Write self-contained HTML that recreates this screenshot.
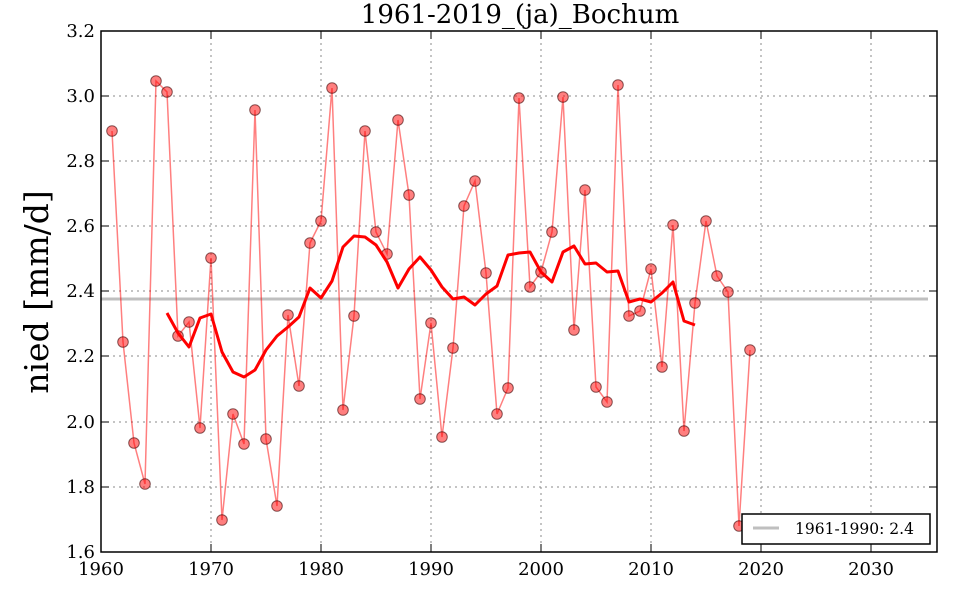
<!DOCTYPE html>
<html><head><meta charset="utf-8"><style>body{margin:0;background:#fff}svg{display:block}</style></head><body>
<svg width="960" height="600" xmlns="http://www.w3.org/2000/svg" font-family="'DejaVu Serif','Liberation Serif',serif">
<defs>
<marker id="m" markerUnits="userSpaceOnUse" markerWidth="14" markerHeight="14" refX="7" refY="7"><circle cx="7" cy="7" r="5.3" fill="rgba(255,0,0,0.5)" stroke="rgba(60,0,0,0.6)" stroke-width="1"/></marker>
</defs>
<rect x="101" y="31" width="836" height="521" fill="#fff"/>
<g stroke="#888" stroke-dasharray="2,4" stroke-width="1">
<line x1="211" y1="31" x2="211" y2="552"/><line x1="321" y1="31" x2="321" y2="552"/><line x1="431" y1="31" x2="431" y2="552"/><line x1="541" y1="31" x2="541" y2="552"/><line x1="651" y1="31" x2="651" y2="552"/><line x1="761" y1="31" x2="761" y2="552"/><line x1="871" y1="31" x2="871" y2="552"/>
<line x1="101" y1="96" x2="937" y2="96"/><line x1="101" y1="161" x2="937" y2="161"/><line x1="101" y1="226" x2="937" y2="226"/><line x1="101" y1="291" x2="937" y2="291"/><line x1="101" y1="356" x2="937" y2="356"/><line x1="101" y1="422" x2="937" y2="422"/><line x1="101" y1="487" x2="937" y2="487"/>
</g>
<line x1="101" y1="299" x2="928" y2="299" stroke="#bfbfbf" stroke-width="3"/>
<polyline fill="none" stroke="rgba(255,0,0,0.5)" stroke-width="1.5" marker-start="url(#m)" marker-mid="url(#m)" marker-end="url(#m)" points="112,131 123,342 134,443 145,484 156,81 167,92 178,336 189,322 200,428 211,258 222,520 233,414 244,444 255,110 266,439 277,506 288,315 299,386 310,243 321,221 332,88 343,410 354,316 365,131 376,232 387,254 398,120 409,195 420,399 431,323 442,437 453,348 464,206 475,181 486,273 497,414 508,388 519,98 530,287 541,272 552,232 563,97 574,330 585,190 596,387 607,402 618,85 629,316 640,311 651,269 662,367 673,225 684,431 695,303 706,221 717,276 728,292 739,526 750,350"/>
<polyline fill="none" stroke="#f00" stroke-width="3" stroke-linejoin="round" points="167,313 178,333 189,347 200,318 211,314 222,352 233,372 244,377 255,370 266,350 277,336 288,327 299,317 310,288 321,298 332,281 343,247 354,236 365,237 376,245 387,262 398,288 409,269 420,257 431,270 442,287 453,299 464,297 475,305 486,294 497,286 508,255 519,253 530,252 541,272 552,282 563,252 574,246 585,264 596,263 607,272 618,271 629,302 640,299 651,302 662,293 673,282 684,321 695,325"/>
<rect x="101" y="31" width="836" height="521" fill="none" stroke="#000" stroke-width="1.5"/>
<g stroke="#000" stroke-width="1">
<line x1="211" y1="552" x2="211" y2="544"/><line x1="321" y1="552" x2="321" y2="544"/><line x1="431" y1="552" x2="431" y2="544"/><line x1="541" y1="552" x2="541" y2="544"/><line x1="651" y1="552" x2="651" y2="544"/><line x1="761" y1="552" x2="761" y2="544"/><line x1="871" y1="552" x2="871" y2="544"/>
<line x1="211" y1="31" x2="211" y2="39"/><line x1="321" y1="31" x2="321" y2="39"/><line x1="431" y1="31" x2="431" y2="39"/><line x1="541" y1="31" x2="541" y2="39"/><line x1="651" y1="31" x2="651" y2="39"/><line x1="761" y1="31" x2="761" y2="39"/><line x1="871" y1="31" x2="871" y2="39"/>
<line x1="101" y1="96" x2="109" y2="96"/><line x1="101" y1="161" x2="109" y2="161"/><line x1="101" y1="226" x2="109" y2="226"/><line x1="101" y1="291" x2="109" y2="291"/><line x1="101" y1="356" x2="109" y2="356"/><line x1="101" y1="422" x2="109" y2="422"/><line x1="101" y1="487" x2="109" y2="487"/>
<line x1="937" y1="96" x2="929" y2="96"/><line x1="937" y1="161" x2="929" y2="161"/><line x1="937" y1="226" x2="929" y2="226"/><line x1="937" y1="291" x2="929" y2="291"/><line x1="937" y1="356" x2="929" y2="356"/><line x1="937" y1="422" x2="929" y2="422"/><line x1="937" y1="487" x2="929" y2="487"/>
</g>
<g font-size="18" fill="#000" text-anchor="middle">
<text x="101" y="575">1960</text><text x="211" y="575">1970</text><text x="321" y="575">1980</text><text x="431" y="575">1990</text><text x="541" y="575">2000</text><text x="651" y="575">2010</text><text x="761" y="575">2020</text><text x="871" y="575">2030</text>
</g>
<g font-size="18" fill="#000" text-anchor="end">
<text x="95" y="37">3.2</text><text x="95" y="102">3.0</text><text x="95" y="167">2.8</text><text x="95" y="232">2.6</text><text x="95" y="297">2.4</text><text x="95" y="362">2.2</text><text x="95" y="428">2.0</text><text x="95" y="493">1.8</text><text x="95" y="558">1.6</text>
</g>
<text x="520" y="23" font-size="26" text-anchor="middle">1961-2019_(ja)_Bochum</text>
<text transform="translate(48,292) rotate(-90)" font-size="33" text-anchor="middle">nied [mm/d]</text>
<rect x="742" y="514" width="188" height="30" fill="#fff" stroke="#000" stroke-width="1.5"/>
<line x1="753" y1="528" x2="779" y2="528" stroke="#bfbfbf" stroke-width="3"/>
<text x="795" y="534" font-size="15.5">1961-1990: 2.4</text>
</svg>
</body></html>
